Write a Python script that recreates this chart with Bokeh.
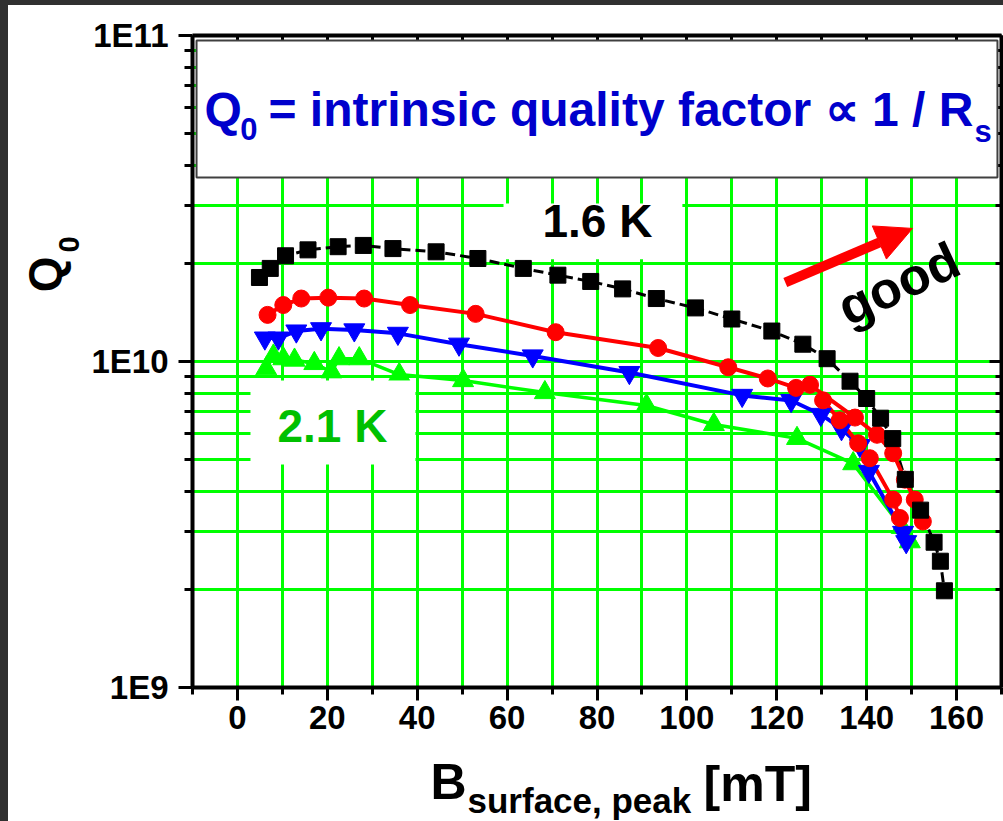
from bokeh.plotting import figure
from bokeh.models import (Range1d, LinearAxis, LogAxis, FixedTicker, SingleIntervalTicker,
                          CustomJSTickFormatter, Label, BoxAnnotation, Arrow, NormalHead, Div)
from bokeh.layouts import column, row
from bokeh.embed import file_html
from bokeh.resources import INLINE

# ---------------- data ----------------
# 1.6 K (black squares, dashed)
b_16 = [4.9, 7.3, 10.7, 15.7, 22.4, 28.0, 34.6, 44.2, 53.5, 63.6, 71.3, 78.6, 85.7, 93.2,
        101.9, 110.0, 118.9, 125.8, 131.2, 136.3, 140.0, 143.1, 145.8, 148.6, 152.0, 155.0,
        156.4, 157.3]
q_16 = [1.81e10, 1.93e10, 2.11e10, 2.20e10, 2.25e10, 2.27e10, 2.22e10, 2.17e10, 2.07e10,
        1.93e10, 1.84e10, 1.76e10, 1.67e10, 1.56e10, 1.46e10, 1.35e10, 1.24e10, 1.13e10,
        1.02e10, 8.7e9, 7.7e9, 6.7e9, 5.8e9, 4.35e9, 3.5e9, 2.79e9, 2.44e9, 1.98e9]
# red circles, first ramp
b_red1 = [6.7, 10.2, 14.2, 20.2, 28.2, 38.4, 53.0, 70.8, 93.6, 109.2, 118.0, 124.3, 127.4,
          137.4, 142.3, 145.9, 148.5, 150.7, 152.5]
q_red1 = [1.39e10, 1.49e10, 1.56e10, 1.57e10, 1.56e10, 1.49e10, 1.40e10, 1.23e10, 1.10e10,
          9.6e9, 8.87e9, 8.3e9, 8.48e9, 6.73e9, 5.96e9, 5.23e9, 4.34e9, 3.77e9, 3.23e9]
# red circles, second ramp
b_red2 = [130.3, 134.0, 138.1, 140.7, 145.9, 147.4]
q_red2 = [7.6e9, 6.6e9, 5.61e9, 5.05e9, 3.77e9, 3.31e9]
# blue inverted triangles
b_blue = [6.1, 9.1, 13.1, 18.6, 26.0, 35.7, 49.3, 65.7, 87.2, 112.3, 123.2, 129.8, 134.4,
          138.5, 140.5, 148.1, 148.8]
q_blue = [1.18e10, 1.18e10, 1.24e10, 1.26e10, 1.25e10, 1.22e10, 1.13e10, 1.04e10, 9.25e9,
          7.87e9, 7.59e9, 6.88e9, 6.22e9, 5.52e9, 4.6e9, 2.99e9, 2.8e9]
# 2.1 K (green triangles)
b_21 = [6.4, 8.0, 10.2, 12.7, 17.1, 20.9, 22.6, 27.1, 36.0, 50.2, 68.4, 91.0, 106.0, 124.5,
        137.0, 147.8, 149.6]
q_21 = [9.5e9, 1.04e10, 1.02e10, 1.01e10, 9.86e9, 9.3e9, 1.02e10, 1.02e10, 9.12e9, 8.74e9,
        8.03e9, 7.33e9, 6.41e9, 5.81e9, 4.86e9, 3.1e9, 2.8e9]

y_major = [1e9, 1e10, 1e11]
y_minor = [2e9, 3e9, 4e9, 5e9, 6e9, 7e9, 8e9, 9e9,
           2e10, 3e10, 4e10, 5e10, 6e10, 7e10, 8e10, 9e10]

title_parts = ["Q", "0", "= intrinsic quality factor \u221d 1 / R", "s"]
ylabel_parts = ["Q", "0"]
xlabel_parts = ["B", "surface, peak", "[mT]"]

FONT = "Liberation Sans"
GRID = "#00ff00"
DARK = "#303030"

xr = Range1d(-10, 170)
yr = Range1d(1e9, 1e11)

p = figure(width=917, height=745, x_range=xr, y_range=yr,
           y_axis_type="log", output_backend="svg", toolbar_location=None,
           min_border_left=106, min_border_right=2, min_border_top=30, min_border_bottom=63,
           background_fill_color="white", border_fill_color="white")
p.outline_line_color = None

xt = SingleIntervalTicker(interval=20, num_minor_ticks=2)
yt = FixedTicker(ticks=y_major, minor_ticks=y_minor)

# grids
p.xgrid.ticker = xt
p.ygrid.ticker = yt
for g in (p.xgrid[0], p.ygrid[0]):
    g.grid_line_color = GRID
    g.grid_line_width = 3
    g.minor_grid_line_color = GRID
    g.minor_grid_line_width = 3

# bottom axis
xa = p.xaxis[0]
xa.ticker = xt
xa.axis_line_width = 4
xa.major_tick_out = 13
xa.major_tick_in = 0
xa.minor_tick_out = 7
xa.minor_tick_in = 0
xa.major_tick_line_width = 3
xa.minor_tick_line_width = 3
xa.major_label_standoff = 5
xa.major_label_text_font = FONT
xa.major_label_text_font_style = "bold"
xa.major_label_text_font_size = "33px"
xa.major_label_text_color = "black"

# left axis
ya = p.yaxis[0]
ya.ticker = yt
ya.formatter = CustomJSTickFormatter(code="return '1E' + Math.round(Math.log10(tick));")
ya.axis_line_width = 4
ya.major_tick_out = 14
ya.major_tick_in = 0
ya.minor_tick_out = 8
ya.minor_tick_in = 0
ya.major_tick_line_width = 3
ya.minor_tick_line_width = 3
ya.major_label_standoff = 10
ya.major_label_text_font = FONT
ya.major_label_text_font_style = "bold"
ya.major_label_text_font_size = "33px"
ya.major_label_text_color = "black"

blank = CustomJSTickFormatter(code="return '';")
top = LinearAxis(ticker=xt, formatter=blank, axis_line_width=4,
                 major_tick_in=7, major_tick_out=0, minor_tick_in=7, minor_tick_out=0,
                 major_tick_line_width=3, minor_tick_line_width=3,
                 major_label_text_font_size="0px", major_label_standoff=0)
p.add_layout(top, "above")
right = LogAxis(ticker=yt, formatter=blank, axis_line_width=4,
                major_tick_in=12, major_tick_out=0, minor_tick_in=6, minor_tick_out=0,
                major_tick_line_width=3, minor_tick_line_width=3,
                major_label_text_font_size="0px", major_label_standoff=0)
p.add_layout(right, "right")

# data series
p.line(b_16, q_16, line_color="black", line_width=3, line_dash="10 5")
p.line(b_21, q_21, line_color=GRID, line_width=3.5)
p.line(b_blue, q_blue, line_color="#0000ff", line_width=4)
p.line(b_red1, q_red1, line_color="#ff0000", line_width=4)
p.line(b_red2, q_red2, line_color="#ff0000", line_width=4)
p.scatter(b_21, q_21, marker="triangle", size=21, fill_color=GRID, line_color=GRID)
p.scatter(b_blue, q_blue, marker="inverted_triangle", size=21, fill_color="#0000ff", line_color="#0000ff")
p.scatter(b_red1, q_red1, marker="circle", size=17, fill_color="#ff0000", line_color="#ff0000")
p.scatter(b_red2, q_red2, marker="circle", size=17, fill_color="#ff0000", line_color="#ff0000")
p.scatter(b_16, q_16, marker="square", size=16, fill_color="black", line_color="black")

# annotation placement (data units of the main plot)
ann = {
    "title_box": (-9.1, 169.1, 9.65e10, 3.67e10),
    "box_16": (59.2, 99.0, 3.05e10, 2.06e10),
    "box_21": (2.9, 39.6, 8.74e9, 4.83e9),
    "t_Q": (-7.33, 5.92e10), "t_0": (0.6, 5.17e10), "t_main": (6.91, 5.92e10), "t_s": (164.0, 5.09e10),
    "l_16": (67.87, 2.69e10), "l_21": (8.91, 6.32e9),
    "good": (147.1, 1.735e10),
    "arrow": (121.9, 1.747e10, 150.2, 2.56e10),
}
# y-label panel: x as fraction of panel width, y in data units
ann_left = {"y_Q": (0.474, 1.63e10), "y_0": (0.773, 2.16e10)}
# x-label panel: x in data units, y as fraction of panel height
ann_bottom = {"x_B": (42.96, 0.556), "x_sub": (51.19, 0.296), "x_unit": (103.7, 0.528)}


def box(key, line=None):
    l, r, t, b = ann[key]
    bx = BoxAnnotation(left=l, right=r, top=t, bottom=b, fill_color="white", fill_alpha=1.0,
                       line_color=line, line_width=2 if line else 0, line_alpha=1.0 if line else 0)
    p.add_layout(bx)


box("title_box", "#404040")
box("box_16")
box("box_21")


def label(fig, pos, text, size, color="black", angle=0.0, align="left", baseline="alphabetic"):
    x, y = pos
    fig.add_layout(Label(x=x, y=y, text=text, text_font=FONT, text_font_style="bold",
                         text_font_size=size, text_color=color, angle=angle,
                         text_align=align, text_baseline=baseline))


BLUE_T = "#0000cc"
label(p, ann["t_Q"], title_parts[0], "48px", BLUE_T)
label(p, ann["t_0"], title_parts[1], "31px", BLUE_T)
label(p, ann["t_main"], title_parts[2], "48px", BLUE_T)
label(p, ann["t_s"], title_parts[3], "31px", BLUE_T)
label(p, ann["l_16"], "1.6 K", "46px", "black")
label(p, ann["l_21"], "2.1 K", "46px", "#00c000")
label(p, ann["good"], "good", "52px", "black", angle=0.436, align="center", baseline="middle")

ax0, ay0, ax1, ay1 = ann["arrow"]
p.add_layout(Arrow(x_start=ax0, y_start=ay0, x_end=ax1, y_end=ay1, line_color="#ff0000",
                   line_width=10,
                   end=NormalHead(size=36, fill_color="#ff0000", line_color="#ff0000", line_width=1)))

# left panel holding the y-axis title
pl = figure(width=78, height=816, x_range=Range1d(0, 1), y_range=yr, y_axis_type="log",
            output_backend="svg", toolbar_location=None, x_axis_location=None,
            y_axis_location=None, min_border_left=0, min_border_right=0,
            min_border_top=30, min_border_bottom=134,
            background_fill_color="white", border_fill_color="white")
pl.outline_line_color = None
pl.grid.visible = False
label(pl, ann_left["y_Q"], ylabel_parts[0], "46px", "black", angle=1.5708)
label(pl, ann_left["y_0"], ylabel_parts[1], "29px", "black", angle=1.5708)

# bottom panel holding the x-axis title (frame aligned with the main plot)
pb = figure(width=917, height=71, x_range=xr, y_range=Range1d(0, 1),
            output_backend="svg", toolbar_location=None, x_axis_location=None,
            y_axis_location=None, min_border=0, min_border_left=106, min_border_right=2,
            min_border_top=0, min_border_bottom=0,
            background_fill_color="white", border_fill_color="white")
pb.outline_line_color = None
pb.grid.visible = False
label(pb, ann_bottom["x_B"], xlabel_parts[0], "50px")
label(pb, ann_bottom["x_sub"], xlabel_parts[1], "35px")
label(pb, ann_bottom["x_unit"], xlabel_parts[2], "50px")

top_strip = Div(text="", width=1003, height=5, margin=0, styles={"background-color": DARK})
left_strip = Div(text="", width=8, height=816, margin=0, styles={"background-color": DARK})

layout = column(top_strip,
                row(left_strip, pl, column(p, pb, spacing=0), spacing=0),
                spacing=0)
open("out.html", "w").write(file_html(layout, INLINE))
